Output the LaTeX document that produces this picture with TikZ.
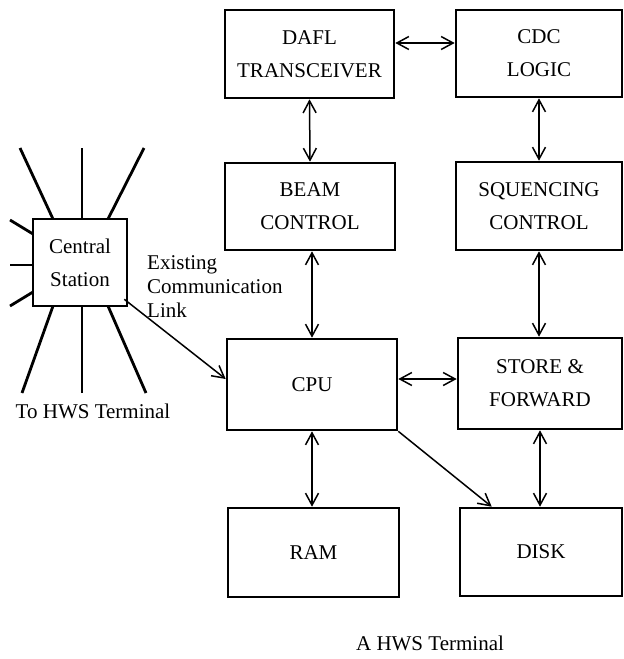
\documentclass[tikz,border=0pt]{standalone}
\usepackage{fontspec}
\setmainfont{Liberation Serif}
\usetikzlibrary{arrows.meta}
\begin{document}
\begin{tikzpicture}[x=1pt,y=-1pt,
  box/.style={draw, line width=2.6pt, rectangle, inner sep=0pt, align=center,
    font=\fontsize{21}{33}\selectfont},
  link/.style={line width=1.5pt, arrows={Straight Barb[length=12pt,width=13pt]-Straight Barb[length=12pt,width=13pt]}},
  onelink/.style={line width=1.5pt, arrows={-Straight Barb[length=12pt,width=13pt]}},
  ray/.style={line width=2.8pt},
  lbl/.style={inner sep=0pt, font=\fontsize{21}{24}\selectfont, align=left}]
\useasboundingbox (0,0) rectangle (624,659);

\node[box, minimum width=169pt, minimum height=88pt] (dafl) at (309.5,54) {DAFL\\TRANSCEIVER};
\node[box, minimum width=166pt, minimum height=87pt] (cdc) at (539,53.5) {CDC\\LOGIC};
\node[box, minimum width=170pt, minimum height=87pt] (beam) at (310,206.5) {BEAM\\CONTROL};
\node[box, minimum width=166pt, minimum height=88pt] (seq) at (539,206) {SQUENCING\\CONTROL};
\node[box, minimum width=170pt, minimum height=91pt] (cpu) at (312,384.5) {CPU};
\node[box, minimum width=164pt, minimum height=91pt] (store) at (540,383.5) {STORE \&\\FORWARD};
\node[box, minimum width=171pt, minimum height=89pt] (ram) at (313.5,552.5) {RAM};
\node[box, minimum width=162pt, minimum height=88pt] (disk) at (541,552) {DISK};
\node[box, minimum width=94pt, minimum height=87pt] (central) at (80,262.5) {Central\\Station};

% rays around central station
\coordinate (t1) at (20,148); \coordinate (t2) at (82,148); \coordinate (t3) at (144,148);
\coordinate (l1) at (10,220); \coordinate (l2) at (10,265); \coordinate (l3) at (10,306);
\coordinate (b1) at (22,393); \coordinate (b2) at (82,393); \coordinate (b3) at (146,393);
\draw[ray] (t1) -- (53,219);
\draw[ray] (t2) -- (82,219);
\draw[ray] (t3) -- (108,219);
\draw[ray] (l1) -- (33,234);
\draw[ray] (l2) -- (33,265);
\draw[ray] (l3) -- (33,292);
\draw[ray] (b1) -- (53,306);
\draw[ray] (b2) -- (82,306);
\draw[ray] (b3) -- (108,306);

% connectors
\draw[link] (dafl.east |- 0,43) -- (cdc.west |- 0,43);
\draw[link] (dafl.south) -- (beam.north);
\draw[link] (cdc.south) -- (seq.north);
\draw[link] (beam.south -| cpu.north) -- (cpu.north);
\draw[link] (seq.south) -- (store.north -| seq.south);
\draw[link] (cpu.east |- 0,379) -- (store.west |- 0,379);
\draw[link] (cpu.south) -- (ram.north -| cpu.south);
\draw[link] (store.south) -- (disk.north -| store.south);
\draw[onelink] (cpu.south east) -- ([xshift=33pt]disk.north west);
\draw[onelink] ([xshift=-4pt,yshift=8pt]central.south east) -- ([yshift=5.5pt]cpu.west);

% labels
\node[lbl, anchor=north west] (exist) at (147,255) {Existing\\Communication\\Link};
\node[lbl] (tohws) at (93,411) {To HWS Terminal};
\node[lbl] (caption) at (430,643) {A HWS Terminal};
\end{tikzpicture}
\end{document}
